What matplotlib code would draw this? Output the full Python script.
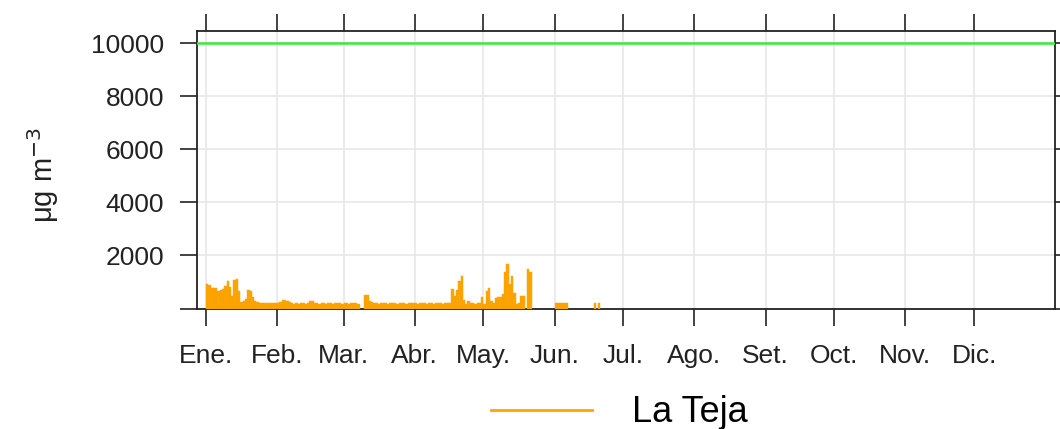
import numpy as np
import matplotlib.pyplot as plt
from matplotlib.lines import Line2D

# valores diarios (ug/m3) desde el 1 de enero, None = sin dato
ene = [920, 880, 790, 790, 770, 670, 700, 730, 855, 1040, 820, 480, 1070, 1105, 670, 230,
       290, 350, 700, 670, 415, 265, 230, 210, 200, 190, 190, 190, 190, 190, 190]
feb = [190, 250, 315, 330, 300, 250, 190, 185, 190, 180, 190, 190, 185, 190, 290, 280,
       190, 190, 185, 190, 190, 180, 190, 190, 185, 190, 190, 190, 185]
mar = [190, 190, 185, 190, 190, 190, 185, None, None, 515, 500, 300, 250, 190, 190, 185,
       190, 190, 190, 185, 190, 190, 190, 185, 190, 190, 190, 185, 190, 190, 190]
abr = [190, 185, 190, 190, 190, 185, 190, 190, 185, 190, 190, 190, 185, 190, 190, 190,
       730, 480, 700, 1045, 1230, 315, 165, 290, 190, 190, 185, 190, 190, 415]
may = [160, 670, 760, 290, 190, 390, 415, 440, 540, 1360, 1670, 920, 1230, 600, 160, 190,
       480, 480, None, 1485, 1360, None, None, None, None, None, None, None, None, None, None]
jun = [190, 190, 190, 190, 190, 190, None, None, None, None, None, None, None, None, None,
       None, None, 190, None, 190]

limite = 10000
meses = ["Ene.", "Feb.", "Mar.", "Abr.", "May.", "Jun.", "Jul.", "Ago.", "Set.", "Oct.", "Nov.", "Dic."]
dias_mes = [31, 29, 31, 30, 31, 30, 31, 31, 30, 31, 30, 31]

valores = np.array([np.nan if v is None else v for v in ene + feb + mar + abr + may + jun], dtype=float)
dias = np.arange(len(valores))
inicio_mes = np.concatenate([[0], np.cumsum(dias_mes)[:-1]])

plt.rcParams['font.family'] = ['Liberation Sans', 'DejaVu Sans']

fig = plt.figure(figsize=(10.6, 4.29), dpi=100)
ax = fig.add_axes([197/1060, 1 - 308.5/429, (1054.5 - 197)/1060, (308.5 - 31)/429])

ok = ~np.isnan(valores)
ax.bar(dias[ok], valores[ok], width=1.0, align='edge', color='#FFA500',
       edgecolor='#F5A000', lw=0.3, zorder=3)
ax.axhline(limite, color='#33ee33', lw=1.8, zorder=4)

ax.set_xlim(-3.9, 370)
ax.set_ylim(0, 10460)

ax.set_xticks(inicio_mes)
ax.set_xticklabels(meses)
ax.set_yticks([0, 2000, 4000, 6000, 8000, 10000])
ax.set_yticklabels(["", "2000", "4000", "6000", "8000", "10000"])

ax.grid(True, color='#e6e6e6', lw=1.1, zorder=0)
ax.set_axisbelow(True)

ax.tick_params(axis='both', which='both', direction='out', length=12.5, width=1.2,
               labelsize=19, colors='#222222', pad=10)
ax.tick_params(axis='x', top=True, labeltop=False, pad=13)
ax.tick_params(axis='y', right=True, labelright=False, pad=11)
for s in ax.spines.values():
    s.set_linewidth(1.3)
    s.set_color('#222222')

fig.text(43/1060, 1 - 175/429, r'μg m$^{-3}$', rotation=90, ha='center', va='center',
         fontsize=21, color='#222222')

linea = Line2D([], [], color='#FFA500', lw=2)
fig.legend([linea], ["La Teja"], loc='center', bbox_to_anchor=(619/1060, 1 - 413/429),
           frameon=False, fontsize=26, handlelength=2.8, handletextpad=1.1)

fig.savefig("out.png", dpi=100)
